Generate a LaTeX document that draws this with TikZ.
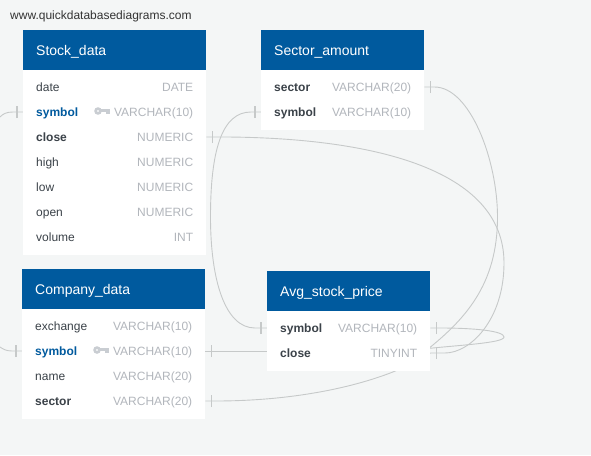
\documentclass[tikz,border=0pt]{standalone}
\usepackage{fontspec}
\setmainfont{Liberation Sans}
\usetikzlibrary{backgrounds}
\definecolor{pagebg}{HTML}{F4F6F6}
\definecolor{headblue}{HTML}{005A9E}
\definecolor{rowdark}{HTML}{3B4249}
\definecolor{rowgray}{HTML}{B2B6BC}
\definecolor{keygray}{HTML}{C9CDD2}
\definecolor{linkgray}{HTML}{C6C9C9}
\tikzset{
  headbox/.style={fill=headblue,text=white,anchor=north west,minimum height=40,inner xsep=13,inner ysep=0,align=left,font=\fontsize{14}{16}\selectfont,text height=13,text depth=2},
  bodybox/.style={fill=white,anchor=north west,inner sep=0},
  rowbox/.style={anchor=west,minimum height=25,inner sep=0},
  rowtext/.style={inner sep=0,text height=11,text depth=3,font=\fontsize{12}{14}\selectfont},
  rowplain/.style={rowtext,text=rowdark},
  rowfk/.style={rowtext,text=rowdark,font=\fontsize{12}{14}\selectfont\bfseries},
  rowkey/.style={rowtext,text=headblue,font=\fontsize{12}{14}\selectfont\bfseries},
  rowtype/.style={rowtext,text=rowgray},
  link/.style={draw=linkgray,line width=0.9},
  tickmark/.style={draw=linkgray,line width=1.1},
  keyicon/.pic={
    \draw[keygray,line width=2.6] (0,0) circle (2.4);
    \fill[keygray] (3,-1.6) rectangle (12,1.2);
    \fill[keygray] (7.6,0) rectangle (9.6,3.4);
    \fill[keygray] (10.4,0) rectangle (12,3.4);
  }
}
\begin{document}
\begin{tikzpicture}[x=1pt,y=-1pt]
\useasboundingbox (0,0) rectangle (591,455);

\node[anchor=west,inner sep=0,text=black!80,font=\fontsize{12}{14}\selectfont] (site) at (10,16) {www.quickdatabasediagrams.com};

% tables
\foreach \tb/\tx/\ty/\tw/\th/\bh/\ttl in {
  sd/23/30/183/157/185/Stock\_data,
  cd/22/269/183/157/110/Company\_data,
  sa/261/30/163/137/60/Sector\_amount,
  av/267/271/163/137/60/Avg\_stock\_price}
{
\node[headbox,text width=\th] (\tb_head) at (\tx,\ty) {\ttl};
\node[bodybox,minimum width=\tw,minimum height=\bh] (\tb_body) at (\tx,\ty+40) {};
}

% rows
\foreach \n/\x/\y/\w/\sty/\lab/\type in {
  sd_date/23/87/183/rowplain/date/DATE,
  sd_symbol/23/112/183/rowkey/symbol/VARCHAR(10),
  sd_close/23/137/183/rowfk/close/NUMERIC,
  sd_high/23/162/183/rowplain/high/NUMERIC,
  sd_low/23/187/183/rowplain/low/NUMERIC,
  sd_open/23/212/183/rowplain/open/NUMERIC,
  sd_volume/23/237/183/rowplain/volume/INT,
  cd_exchange/22/326/183/rowplain/exchange/VARCHAR(10),
  cd_symbol/22/351/183/rowkey/symbol/VARCHAR(10),
  cd_name/22/376/183/rowplain/name/VARCHAR(20),
  cd_sector/22/401/183/rowfk/sector/VARCHAR(20),
  sa_sector/261/87/163/rowfk/sector/VARCHAR(20),
  sa_symbol/261/112/163/rowfk/symbol/VARCHAR(10),
  av_symbol/267/328/163/rowfk/symbol/VARCHAR(10),
  av_close/267/353/163/rowfk/close/TINYINT}
{
\node[rowbox,minimum width=\w] (\n) at (\x,\y) {};
\node[\sty,anchor=west] (\n_lab) at ([xshift=13]\n.west) {\lab};
\node[rowtype,anchor=east] (\n_type) at ([xshift=-13]\n.east) {\type};
}

\pic at (98,111) {keyicon};
\pic at (97,350) {keyicon};

\coordinate (sd_free) at (0,117);
\coordinate (cd_free) at (0,347);
\coordinate (av_inner) at (267,351);
\coordinate (av_back) at (423,353);
\coordinate (av_loop) at (423,349);

% connectors, behind the tables
\begin{scope}[on background layer]
\fill[pagebg] (0,0) rectangle (591,455);
\draw[link] (sd_close.east) -- ++(20,0) .. controls (370,138) and (504,168) .. (504,263) .. controls (504,320) and (470,353) .. (445,353) -- (av_close.east);
\draw[link] (sa_sector.east) -- ++(10,0) .. controls (470,87) and (497.5,160) .. (497.5,217) .. controls (497.5,285) and (465,320) .. (av_back);
\draw[link] (av_symbol.east) -- ++(10,0) .. controls (475,328) and (504,331) .. (504,337) .. controls (504,343) and (460,345) .. (av_loop);
\draw[link] (sa_symbol.west) -- ++(-10,0) .. controls (222,112) and (210.5,150) .. (210.5,217) .. controls (210.5,280) and (225,328) .. (255,328) -- (av_symbol.west);
\draw[link] (cd_symbol.east) -- (av_inner);
\draw[link] (cd_sector.east) -- ++(10,0) .. controls (310,401) and (390,380) .. (av_close.east);
\draw[link] (sd_symbol.west) -- ++(-10,0) .. controls (6,112) and (3,114) .. (sd_free);
\draw[link] (cd_symbol.west) -- ++(-10,0) .. controls (6,351) and (3,349) .. (cd_free);
\end{scope}

% ticks
\foreach \p/\s in {sd_symbol.west/-6,sd_close.east/6,cd_symbol.west/-6,cd_symbol.east/6,cd_sector.east/6,sa_sector.east/6,sa_symbol.west/-6,av_symbol.west/-6,av_symbol.east/6,av_close.east/6}
{
\draw[tickmark] ([xshift=\s,yshift=-6]\p) -- ([xshift=\s,yshift=6]\p);
}

\end{tikzpicture}
\end{document}
